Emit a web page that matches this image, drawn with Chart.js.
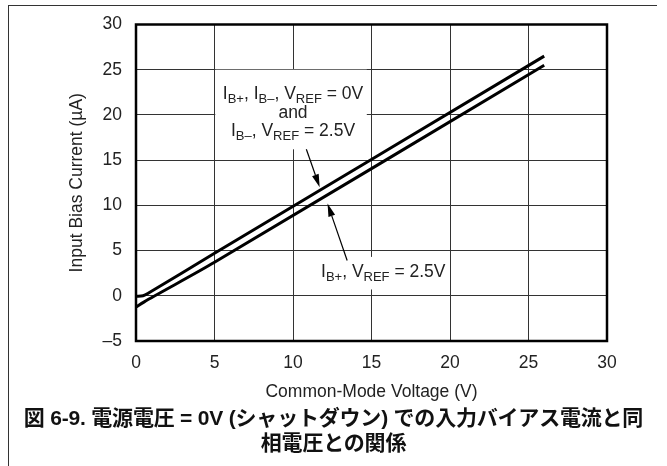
<!DOCTYPE html>
<html>
<head>
<meta charset="utf-8">
<script src="https://cdn.jsdelivr.net/npm/chart.js@4.4.1/dist/chart.umd.min.js"></script>
<style>
  html, body { margin: 0; padding: 0; background: #fff; }
  #wrap { position: relative; width: 667px; height: 466px; overflow: hidden; }
  #frame { position: absolute; left: 8px; top: 5px; right: 10px; bottom: -2px;
           border-left: 1.5px solid #333; border-top: 1.5px solid #333; }
  canvas { position: absolute; left: 0; top: 0; }
  #caption { position: absolute; left: 0; top: 405px; width: 667px; text-align: center;
             font: bold 21px "Liberation Sans", "Noto Sans CJK JP", sans-serif;
             line-height: 25px; color: #111; letter-spacing: -0.2px; }
</style>
</head>
<body>
<div id="wrap">
  <div id="frame"></div>
  <canvas id="biasChart" width="667" height="466"></canvas>
  <div id="caption">図 6-9. 電源電圧 = 0V (シャットダウン) での入力バイアス電流と同<br>相電圧との関係</div>
</div>
<script>
// Data
const vcmUpper = [0, 0.45, 0.8, 5, 26];
const ibUpper = [-0.05, 0, 0.3, 4.7, 26.5];   // IB+, IB- (VREF = 0V) and IB- (VREF = 2.5V)
const vcmLower = [0, 0.5, 1.2, 5, 26];
const ibLower = [-1.25, -0.7, 0, 3.7, 25.5];  // IB+ (VREF = 2.5V)

const xTicks = [0, 5, 10, 15, 20, 25, 30];
const yTicks = [-5, 0, 5, 10, 15, 20, 25, 30];

const FONT = '"Liberation Sans", Arial, sans-serif';

function toPoints(xs, ys) {
  return xs.map((x, i) => ({ x: x, y: ys[i] }));
}

// rich text pieces: [text, isSubscript]
function drawRich(ctx, parts, cx, cy) {
  const big = '17.5px ' + FONT, small = '13px ' + FONT;
  let w = 0;
  parts.forEach(p => {
    ctx.font = p[1] ? small : big;
    w += ctx.measureText(p[0]).width;
  });
  let x = cx - w / 2;
  ctx.textAlign = 'left';
  ctx.textBaseline = 'middle';
  parts.forEach(p => {
    ctx.font = p[1] ? small : big;
    ctx.fillText(p[0], x, p[1] ? cy + 5.5 : cy);
    x += ctx.measureText(p[0]).width;
  });
}

function arrow(ctx, x1, y1, x2, y2) {
  const ang = Math.atan2(y2 - y1, x2 - x1);
  const len = 13, half = 3.5;
  const bx = x2 - len * Math.cos(ang), by = y2 - len * Math.sin(ang);
  ctx.beginPath();
  ctx.moveTo(x1, y1);
  ctx.lineTo(bx, by);
  ctx.lineWidth = 1.2;
  ctx.stroke();
  ctx.beginPath();
  ctx.moveTo(x2, y2);
  ctx.lineTo(bx + half * Math.sin(ang), by - half * Math.cos(ang));
  ctx.lineTo(bx - half * Math.sin(ang), by + half * Math.cos(ang));
  ctx.closePath();
  ctx.fill();
}

// Frame and annotations
const notes = {
  id: 'notes',
  afterDatasetsDraw(chart) {
    const { ctx, chartArea: a, scales: { x, y } } = chart;
    ctx.save();
    ctx.strokeStyle = '#000';

    // label boxes hide the grid behind them
    ctx.fillStyle = '#fff';
    ctx.fillRect(x.getPixelForValue(5.05), y.getPixelForValue(25), x.getPixelForValue(14.7) - x.getPixelForValue(5.05), y.getPixelForValue(16.2) - y.getPixelForValue(25));
    ctx.fillRect(x.getPixelForValue(11.8), y.getPixelForValue(4.3), x.getPixelForValue(19.6) - x.getPixelForValue(11.8), y.getPixelForValue(0.7) - y.getPixelForValue(4.3));

    ctx.fillStyle = '#222';
    const cx1 = x.getPixelForValue(10);
    drawRich(ctx, [['I', 0], ['B+', 1], [', I', 0], ['B\u2013', 1], [', V', 0], ['REF', 1], [' = 0V', 0]], cx1, y.getPixelForValue(22.3));
    drawRich(ctx, [['and', 0]], cx1, y.getPixelForValue(20.2));
    drawRich(ctx, [['I', 0], ['B\u2013', 1], [', V', 0], ['REF', 1], [' = 2.5V', 0]], cx1, y.getPixelForValue(18.2));
    drawRich(ctx, [['I', 0], ['B+', 1], [', V', 0], ['REF', 1], [' = 2.5V', 0]], x.getPixelForValue(15.75), y.getPixelForValue(2.6));

    ctx.fillStyle = '#000';
    arrow(ctx, x.getPixelForValue(10.85), y.getPixelForValue(16.2), x.getPixelForValue(11.7), y.getPixelForValue(12.0));
    arrow(ctx, x.getPixelForValue(13.45), y.getPixelForValue(3.9), x.getPixelForValue(12.2), y.getPixelForValue(10.2));

    // plot frame
    ctx.lineWidth = 2.5;
    ctx.strokeRect(a.left, a.top, a.right - a.left, a.bottom - a.top);
    ctx.restore();
  }
};

const ctx = document.getElementById('biasChart').getContext('2d');
new Chart(ctx, {
  type: 'scatter',
  data: {
    datasets: [
      {
        label: 'IB+, IB- VREF = 0V and IB- VREF = 2.5V',
        data: toPoints(vcmUpper, ibUpper),
        showLine: true,
        borderColor: '#000',
        borderWidth: 3,
        pointRadius: 0,
        tension: 0.3
      },
      {
        label: 'IB+ VREF = 2.5V',
        data: toPoints(vcmLower, ibLower),
        showLine: true,
        borderColor: '#000',
        borderWidth: 3,
        pointRadius: 0,
        tension: 0.3
      }
    ]
  },
  options: {
    responsive: false,
    animation: false,
    devicePixelRatio: 1,
    layout: { padding: { left: 62, top: 23, right: 60, bottom: 56 } },
    plugins: {
      legend: { display: false },
      tooltip: { enabled: false }
    },
    scales: {
      x: {
        type: 'linear',
        min: 0,
        max: 30,
        afterFit(s) { s.height = 69; },
        afterBuildTicks(s) { s.ticks = xTicks.map(v => ({ value: v })); },
        ticks: { padding: 12, color: '#222', font: { family: FONT, size: 17.5 } },
        grid: { color: '#333', lineWidth: 1, drawTicks: false },
        border: { display: false },
        title: {
          display: true,
          text: 'Common-Mode Voltage (V)',
          color: '#222',
          font: { family: FONT, size: 17.5 },
          padding: { top: 0, bottom: 7.5 }
        }
      },
      y: {
        min: -5,
        max: 30,
        afterFit(s) { s.width = 74; },
        afterBuildTicks(s) { s.ticks = yTicks.map(v => ({ value: v })); },
        ticks: {
          padding: 14,
          color: '#222',
          font: { family: FONT, size: 17.5 },
          callback: v => (v < 0 ? '\u2013' + Math.abs(v) : String(v))
        },
        grid: { color: '#333', lineWidth: 1, drawTicks: false },
        border: { display: false },
        title: {
          display: true,
          text: 'Input Bias Current (\u00b5A)',
          color: '#222',
          font: { family: FONT, size: 17.5 },
          padding: { top: 4.5, bottom: 0 }
        }
      }
    }
  },
  plugins: [notes]
});
</script>
</body>
</html>
